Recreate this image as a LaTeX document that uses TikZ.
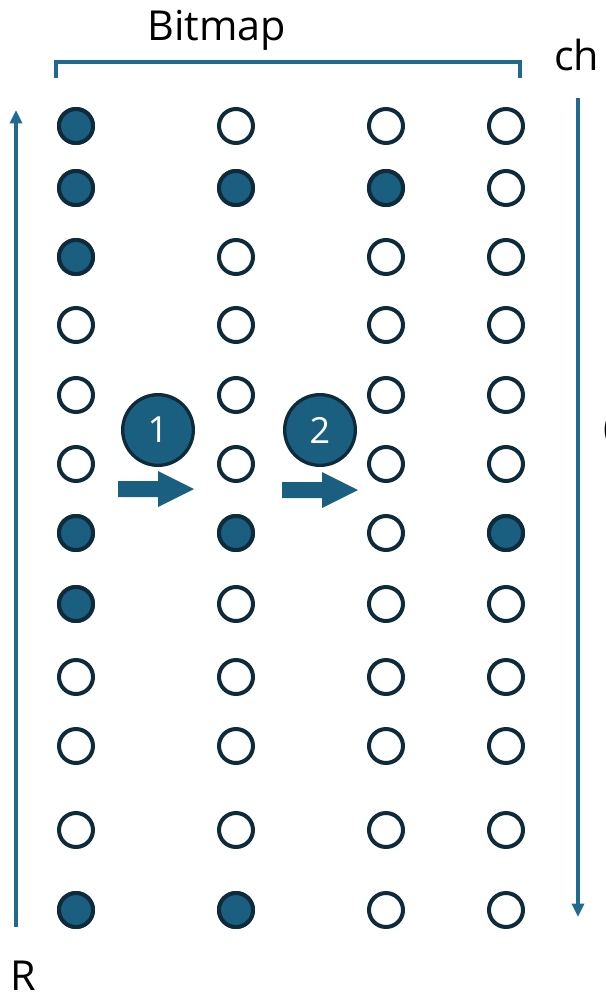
\documentclass[tikz,border=0pt]{standalone}
\usepackage{fontspec}
\setmainfont{Open Sans}
\definecolor{fillblue}{HTML}{1B5F80}
\definecolor{ringdark}{HTML}{0E2B3B}
\definecolor{lineblue}{HTML}{1F6A8E}
\tikzset{
  bit/.style={circle, draw=ringdark, line width=3pt, minimum size=25.5pt, inner sep=0pt, fill=white},
  setbit/.style={bit, fill=fillblue},
  badge/.style={circle, draw=ringdark, line width=2.5pt, fill=fillblue, minimum size=53pt, inner sep=0pt, text=white, font=\fontsize{27}{30}\selectfont},
  axis/.style={draw=lineblue, line width=2.4pt, -{Triangle[length=10pt,width=9pt]}},
  lbl/.style={inner sep=0pt, font=\fontsize{31}{34}\selectfont},
  blockarrow/.style={fill=fillblue, draw=none}
}
\usetikzlibrary{arrows.meta}
\begin{document}
\begin{tikzpicture}[x=0.75pt,y=-0.75pt]
\useasboundingbox (0,0) rectangle (606,993);
\clip (0,0) rectangle (606,993);
% columns and rows
\def\cols{{76,236,388,506}}
\foreach \r/\y in {1/126,2/188,3/257,4/325,5/395,6/464,7/533,8/604,9/677,10/746,11/830,12/910}{
  \foreach \c/\x in {1/76,2/236,3/386,4/506}{
    \node[bit] (b\r-\c) at (\x,\y) {};
  }
}
% set bits
\foreach \r/\c/\x/\y in {1/1/76/126,2/1/76/188,3/1/76/257,7/1/76/533,8/1/76/604,12/1/76/910,
                         2/2/236/188,7/2/236/533,12/2/236/910,2/3/386/188,7/4/506/533}{
  \node[setbit] at (\x,\y) {};
}
% bracket
\draw[lineblue, line width=2.4pt] (56,78) -- (56,62) -- (520,62) -- (520,78);
\node[lbl, anchor=base] (bitmap) at (217,40) {Bitmap};
\node[lbl, anchor=base west] (ch) at (554,70) {ch};
\node[lbl, anchor=base west] (paren) at (603,441) {(};
\node[lbl, anchor=base west] (R) at (10,990) {R};
% axes
\coordinate (la) at (16,927);
\coordinate (lb) at (16,110);
\draw[axis] (la) -- (lb);
\coordinate (ra) at (578,98);
\coordinate (rb) at (578,917);
\draw[axis] (ra) -- (rb);
% badges
\node[badge] (one) at (158,430) {1};
\node[badge] (two) at (320,430) {2};
% block arrows
\fill[blockarrow] (118,481) -- (158,481) -- (158,471) -- (194,489) -- (158,507) -- (158,497) -- (118,497) -- cycle;
\fill[blockarrow] (282,482) -- (322,482) -- (322,472) -- (358,490) -- (322,508) -- (322,498) -- (282,498) -- cycle;
\end{tikzpicture}
\end{document}
